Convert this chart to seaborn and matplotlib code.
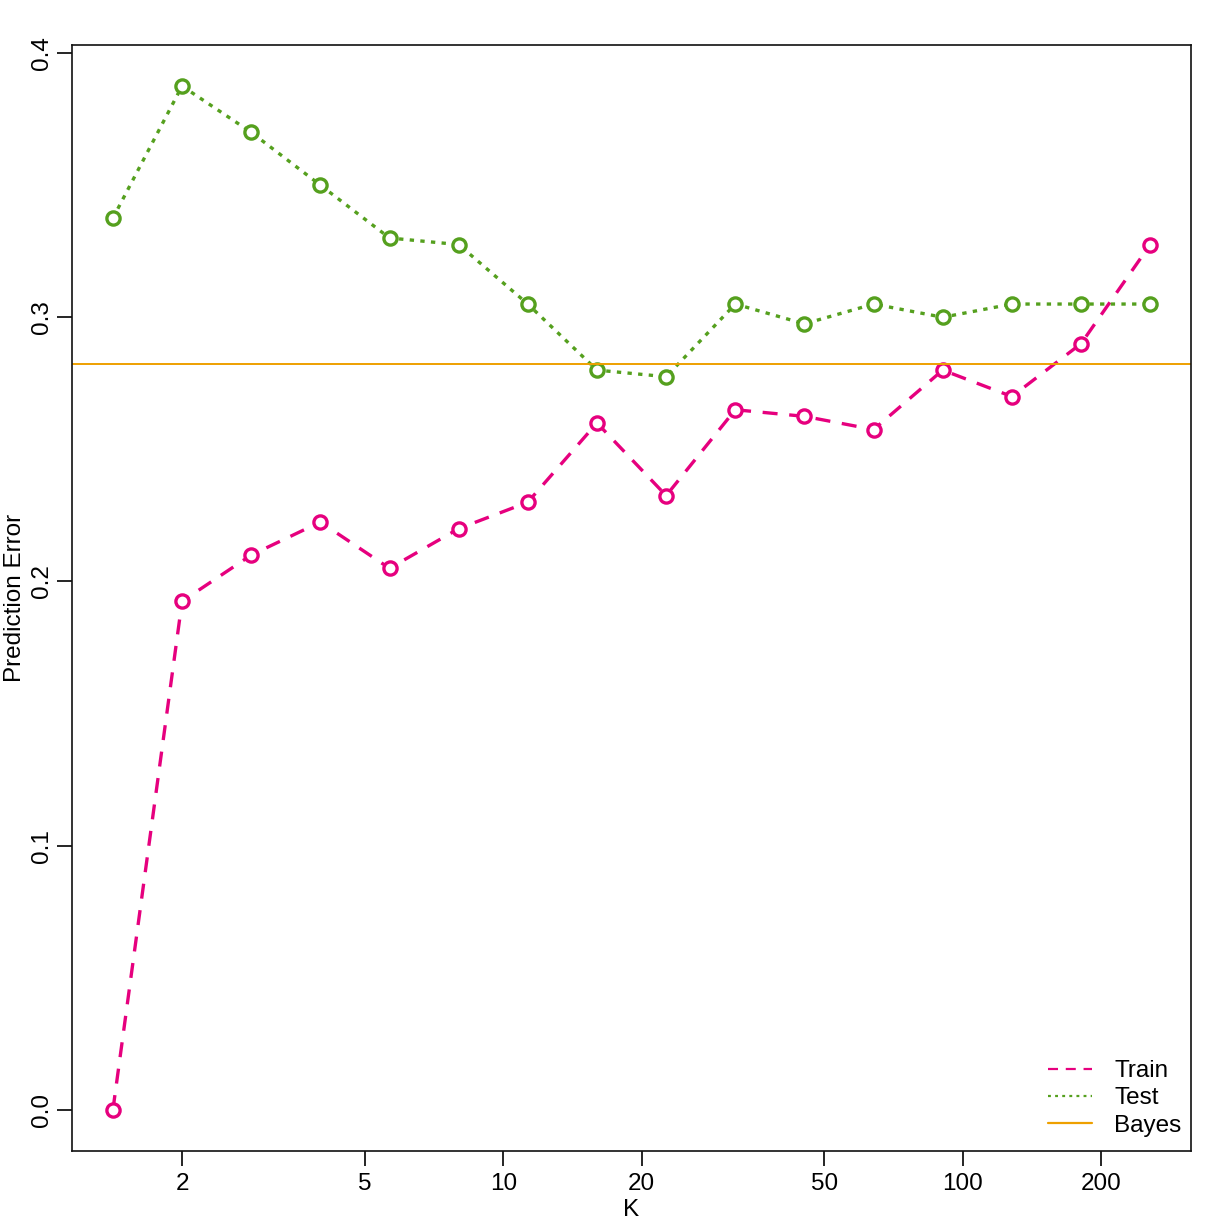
import numpy as np
import pandas as pd
import matplotlib
matplotlib.use("Agg")
import matplotlib.pyplot as plt
import seaborn as sns
from matplotlib.ticker import FixedLocator, FixedFormatter, NullLocator

# ---- data ----
K = [1.414, 2, 2.828, 4, 5.657, 8, 11.31, 16, 22.63, 32, 45.25, 64, 90.51, 128, 181.0, 256]
train_err = [0.0, 0.1925, 0.21, 0.2225, 0.205, 0.22, 0.23, 0.26, 0.2325, 0.265,
             0.2625, 0.2575, 0.28, 0.27, 0.29, 0.3275]
test_err = [0.3375, 0.3875, 0.37, 0.35, 0.33, 0.3275, 0.305, 0.28, 0.2775, 0.305,
            0.2975, 0.305, 0.30, 0.305, 0.305, 0.305]
bayes_err = 0.2823
x_ticks = [2, 5, 10, 20, 50, 100, 200]
y_ticks = [0.0, 0.1, 0.2, 0.3, 0.4]

PINK = "#E6007E"
GREEN = "#55A01E"
ORANGE = "#EEA000"

sns.set_style("white")
plt.rcParams['font.family'] = ['Liberation Sans', 'DejaVu Sans']
plt.rcParams['text.color'] = 'black'
plt.rcParams['axes.labelcolor'] = 'black'
plt.rcParams['xtick.color'] = 'black'
plt.rcParams['ytick.color'] = 'black'

fig = plt.figure(figsize=(12.24, 12.24), dpi=100)
ax = fig.add_axes([72/1224, 1 - 1151/1224, (1191-72)/1224, (1151-45)/1224])

df_train = pd.DataFrame({"K": K, "err": train_err})
df_test = pd.DataFrame({"K": K, "err": test_err})

sns.lineplot(data=df_train, x="K", y="err", ax=ax, color=PINK, lw=2.4,
             marker="o", markersize=9.5, markerfacecolor="white",
             markeredgecolor=PINK, markeredgewidth=2.4, label="Train")
ax.lines[-1].set_dashes((4.5, 3.5))
sns.lineplot(data=df_test, x="K", y="err", ax=ax, color=GREEN, lw=2.4,
             marker="o", markersize=9.5, markerfacecolor="white",
             markeredgecolor=GREEN, markeredgewidth=2.4, label="Test")
ax.lines[-1].set_dashes((1.3, 1.9))
ax.axhline(bayes_err, color=ORANGE, lw=1.4, label="Bayes")

ax.set_xscale("log")
ax.set_xlim(1.152, 314.1)
ax.set_ylim(-0.01552, 0.40303)
ax.xaxis.set_major_locator(FixedLocator(x_ticks))
ax.xaxis.set_major_formatter(FixedFormatter([str(t) for t in x_ticks]))
ax.xaxis.set_minor_locator(NullLocator())
ax.yaxis.set_major_locator(FixedLocator(y_ticks))
ax.set_yticklabels([f"{t:.1f}" for t in y_ticks], rotation=90, va="center")

ax.tick_params(axis="x", which="major", direction="out", length=11, width=1.2,
               labelsize=17.5, colors="black", pad=5, bottom=True)
ax.tick_params(axis="y", which="major", direction="out", length=11, width=1.2,
               labelsize=17.5, colors="black", pad=3, left=True)
for s in ax.spines.values():
    s.set_visible(True)
    s.set_color("#111111")
    s.set_linewidth(1.2)
    s.set_zorder(6)

ax.set_xlabel("K", fontsize=17.5)
ax.set_ylabel("Prediction Error", fontsize=17.5)
ax.xaxis.set_label_coords(0.5, -0.0533)
ax.yaxis.set_label_coords(-0.051, 0.5)
ax.xaxis.label.set_va("center")
ax.yaxis.label.set_va("center")

handles, labels = ax.get_legend_handles_labels()
leg = ax.legend(handles=handles, labels=labels, loc="lower right",
                bbox_to_anchor=(1.0, 0.004), fontsize=17.5,
                frameon=True, fancybox=False, edgecolor="none", framealpha=1.0,
                borderaxespad=0.0, handlelength=1.8, handletextpad=0.9,
                labelspacing=0.22, borderpad=0.4)
leg.set_zorder(5)
for h in leg.get_lines():
    h.set_marker("")
    h.set_linewidth(1.6)

fig.savefig("out.png", dpi=100, facecolor="white")
